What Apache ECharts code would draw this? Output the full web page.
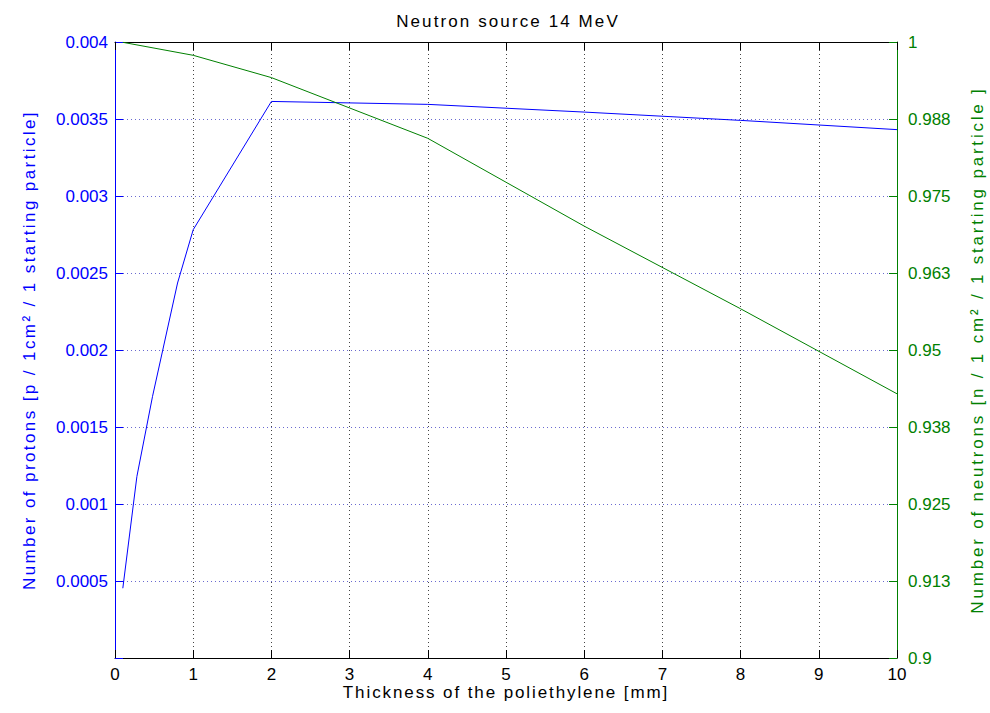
<!DOCTYPE html>
<html>
<head>
<meta charset="utf-8">
<script src="https://cdn.jsdelivr.net/npm/echarts@6/dist/echarts.min.js"></script>
<style>
  html, body { margin: 0; padding: 0; background: #fff; overflow: hidden; }
  #chart { width: 990px; height: 713px; }
</style>
</head>
<body>
<div id="chart"></div>
<script>
// Thickness of polyethylene [mm] and the transmitted particle counts
const protonThickness = [0.1, 0.28, 0.48, 0.8, 1, 2, 4, 6, 8, 10];
const protonCounts = [0.000453, 0.001179, 0.001699, 0.002435, 0.002781, 0.003614, 0.003595, 0.003545, 0.003491, 0.003431];
const neutronThickness = [0.1, 1, 2, 4, 6, 8, 10];
const neutronCounts = [0.99995, 0.99784, 0.99422, 0.98436, 0.97011, 0.95669, 0.94289];

// Tick labels
const protonTicks = ['', '0.0005', '0.001', '0.0015', '0.002', '0.0025', '0.003', '0.0035', '0.004'];
const neutronTicks = ['0.9', '0.913', '0.925', '0.938', '0.95', '0.963', '0.975', '0.988', '1'];

// Titles
const TITLE = 'Neutron source 14 MeV';
const X_NAME = 'Thickness of the poliethylene [mm]';
const LEFT_NAME = 'Number of protons [p / 1cm² / 1 starting particle]';
const RIGHT_NAME = 'Number of neutrons [n / 1 cm² / 1 starting particle ]';

// Extra tracking (px) for the loosely set headings
const tracking = {};
tracking[TITLE] = 2.1;
tracking[X_NAME] = 1.9;
tracking[LEFT_NAME] = 2.4;
tracking[RIGHT_NAME] = 2.8;

const FONT = "'Liberation Sans', Arial, Helvetica, sans-serif";
const BLUE = '#0000ff';
const GREEN = '#008000';
const DOTS = [1, 3];

const pairs = (xs, ys) => xs.map((x, i) => [x, ys[i]]);

const chart = echarts.init(document.getElementById('chart'), null, { renderer: 'svg' });
chart.setOption({
  animation: false,
  backgroundColor: '#fff',
  textStyle: { fontFamily: FONT },
  title: {
    text: TITLE,
    left: 503,
    textAlign: 'center',
    top: 8,
    textStyle: { fontFamily: FONT, fontSize: 17, fontWeight: 'normal', color: '#000' }
  },
  grid: { left: 115, right: 93, top: 42, bottom: 55, containLabel: false, outerBoundsMode: 'none' },
  xAxis: [
    {
      type: 'value', min: 0, max: 10, interval: 1, position: 'bottom',
      name: X_NAME,
      nameLocation: 'middle', nameGap: 26, nameMoveOverlap: false,
      nameTextStyle: { fontFamily: FONT, fontSize: 17, color: '#000' },
      axisLine: { show: true, onZero: false, lineStyle: { color: '#000', width: 1 } },
      axisTick: { show: true, inside: true, length: 8, lineStyle: { color: '#000' } },
      axisLabel: { fontFamily: FONT, fontSize: 17, color: '#000', margin: 8 },
      splitLine: { show: true, lineStyle: { color: '#444', type: DOTS, width: 1 } }
    },
    {
      type: 'value', min: 0, max: 10, interval: 1, position: 'top',
      axisLine: { show: true, onZero: false, lineStyle: { color: '#000', width: 1 } },
      axisTick: { show: true, inside: true, length: 8, lineStyle: { color: '#000' } },
      axisLabel: { show: false },
      splitLine: { show: false }
    }
  ],
  yAxis: [
    {
      type: 'value', min: 0, max: 0.004, interval: 0.0005, position: 'left',
      name: LEFT_NAME,
      nameLocation: 'middle', nameGap: 77, nameRotate: 90, nameMoveOverlap: false,
      nameTextStyle: { fontFamily: FONT, fontSize: 17, color: BLUE },
      axisLine: { show: true, onZero: false, lineStyle: { color: BLUE, width: 1 } },
      axisTick: { show: true, inside: true, length: 8, lineStyle: { color: BLUE } },
      axisLabel: {
        fontFamily: FONT, fontSize: 17, color: BLUE, margin: 7,
        formatter: v => protonTicks[Math.round(v / 0.0005)] || ''
      },
      splitLine: { show: true, lineStyle: { color: '#6a6ad0', type: DOTS, width: 1 } }
    },
    {
      type: 'value', min: 0.9, max: 1, interval: 0.0125, position: 'right',
      name: RIGHT_NAME,
      nameLocation: 'middle', nameGap: 72, nameRotate: 90, nameMoveOverlap: false,
      nameTextStyle: { fontFamily: FONT, fontSize: 17, color: GREEN },
      axisLine: { show: true, onZero: false, lineStyle: { color: GREEN, width: 1 } },
      axisTick: { show: true, inside: true, length: 8, lineStyle: { color: GREEN } },
      axisLabel: {
        fontFamily: FONT, fontSize: 17, color: GREEN, margin: 11,
        formatter: v => neutronTicks[Math.round((v - 0.9) / 0.0125)] || ''
      },
      splitLine: { show: false }
    }
  ],
  series: [
    {
      name: 'protons', type: 'line', xAxisIndex: 0, yAxisIndex: 0,
      data: pairs(protonThickness, protonCounts),
      showSymbol: false, symbol: 'none',
      lineStyle: { color: BLUE, width: 1 }, itemStyle: { color: BLUE }
    },
    {
      name: 'neutrons', type: 'line', xAxisIndex: 0, yAxisIndex: 1,
      data: pairs(neutronThickness, neutronCounts),
      showSymbol: false, symbol: 'none',
      lineStyle: { color: GREEN, width: 1 }, itemStyle: { color: GREEN }
    }
  ]
});

// Loosen the letter spacing of the headings
function applyTracking() {
  document.querySelectorAll('#chart text').forEach(t => {
    const sp = tracking[t.textContent];
    if (sp != null) t.style.letterSpacing = sp + 'px';
  });
}
applyTracking();
chart.on('finished', applyTracking);
setTimeout(applyTracking, 0);
</script>
</body>
</html>
